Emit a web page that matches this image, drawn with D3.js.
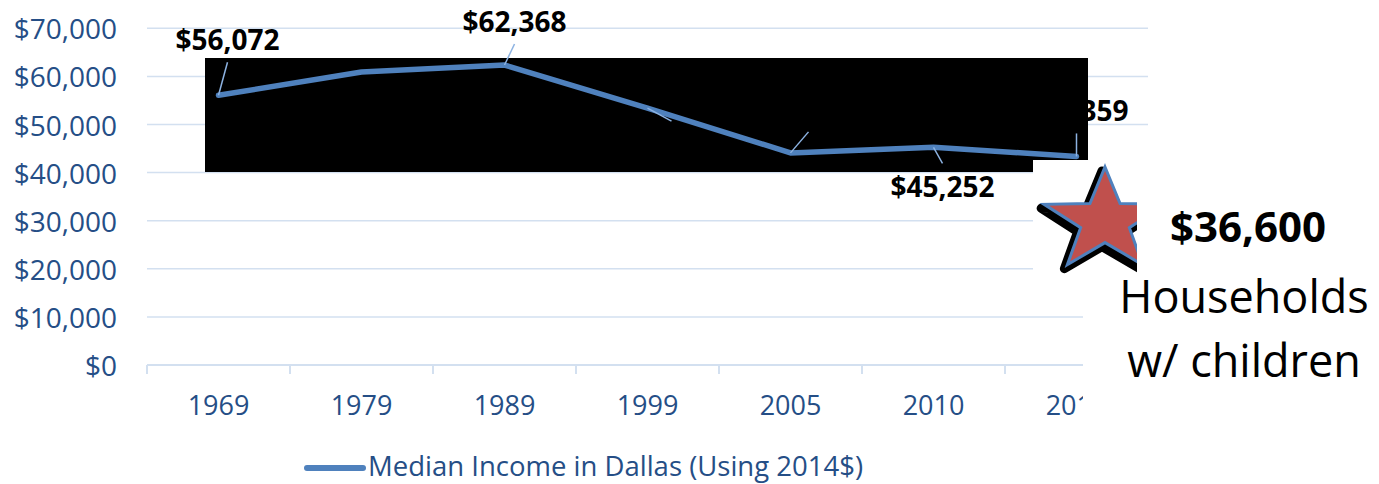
<!DOCTYPE html>
<html>
<head>
<meta charset="utf-8">
<script src="https://cdn.jsdelivr.net/npm/d3@7"></script>
<style>
  body { margin: 0; background: #fff; }
  svg { display: block; }
</style>
</head>
<body>
<script>
const years = ['1969', '1979', '1989', '1999', '2005', '2010', '2014']
const income = [56072, 60900, 62368, 53400, 44100, 45252, 43359]
const labelled = [true, false, true, true, true, true, true]
const yTicks = [0, 10000, 20000, 30000, 40000, 50000, 60000, 70000]
const seriesName = 'Median Income in Dallas (Using 2014$)'
const calloutValue = '$36,600'
const calloutLines = ['Households', 'w/ children']

// where each data label was dragged to, relative to its point (label centre x, baseline y)
const labelOffsets = [[9, -45], [0, -14], [10, -33], [24, 47], [18, -33], [9, 50], [0, -35]]

const W = 1379, H = 484
const fontFam = "'Open Sans', 'Noto Sans', sans-serif"
const axisCol = '#254e86'
const gridCol = '#d3e0f0'
const lineCol = '#4f81bd'

const svg = d3.select('body').append('svg').attr('width', W).attr('height', H)

const x = d3.scaleBand().domain(years).range([147, 1148])
const y = d3.scaleLinear().domain([0, 70000]).range([365, 28.3])
const cx = d => x(d) + x.bandwidth() / 2

// gridlines + y labels
svg.append('g').selectAll('line').data(yTicks.slice(1)).enter().append('line')
  .attr('x1', 147).attr('x2', 1148)
  .attr('y1', d => y(d)).attr('y2', d => y(d))
  .attr('stroke', gridCol).attr('stroke-width', 1.5)

svg.append('g').selectAll('text').data(yTicks).enter().append('text')
  .attr('x', 117).attr('y', d => y(d))
  .attr('text-anchor', 'end').attr('dominant-baseline', 'central')
  .attr('font-family', fontFam).attr('font-size', 28).attr('fill', axisCol)
  .text(d => d3.format('$,')(d))

// x axis: line, ticks between categories, labels
const xAxis = d3.axisBottom(x).tickSize(0).tickPadding(31)
const gx = svg.append('g').attr('transform', 'translate(0,' + y(0) + ')').call(xAxis)
gx.select('.domain').remove()
gx.selectAll('text').attr('font-family', fontFam).attr('font-size', 27).attr('fill', axisCol)
svg.append('line').attr('x1', 147).attr('x2', 1148).attr('y1', y(0)).attr('y2', y(0))
  .attr('stroke', gridCol).attr('stroke-width', 2)
svg.append('g').selectAll('line').data(years.map(d => x(d)).concat([1148])).enter().append('line')
  .attr('x1', d => d).attr('x2', d => d).attr('y1', y(0)).attr('y2', y(0) + 9)
  .attr('stroke', gridCol).attr('stroke-width', 2)

// black block pasted over the chart
svg.append('rect').attr('x', 205).attr('y', 58).attr('width', 883).attr('height', 114).attr('fill', '#000')

// series
const pts = years.map((d, i) => ({ year: d, v: income[i], i: i }))
svg.append('path').datum(pts)
  .attr('d', d3.line().x(d => cx(d.year)).y(d => y(d.v)))
  .attr('fill', 'none').attr('stroke', lineCol).attr('stroke-width', 5.5)
  .attr('stroke-linejoin', 'round').attr('stroke-linecap', 'round')

// data labels with leader lines
const lab = pts.filter(d => labelled[d.i])
svg.append('g').selectAll('line').data(lab).enter().append('line')
  .attr('x1', d => cx(d.year)).attr('y1', d => y(d.v))
  .attr('x2', d => cx(d.year) + labelOffsets[d.i][0])
  .attr('y2', d => {
    const o = labelOffsets[d.i][1]
    return y(d.v) + (o < 0 ? o + 12 : o - 34)
  })
  .attr('stroke', '#8db3e2').attr('stroke-width', 1.5)
svg.append('g').selectAll('text').data(lab).enter().append('text')
  .attr('x', d => cx(d.year) + labelOffsets[d.i][0])
  .attr('y', d => y(d.v) + labelOffsets[d.i][1])
  .attr('text-anchor', 'middle')
  .attr('font-family', fontFam).attr('font-size', 28).attr('font-weight', 'bold').attr('fill', '#000')
  .text(d => d3.format('$,')(d.v))

// legend
svg.append('line').attr('x1', 307).attr('x2', 363).attr('y1', 468).attr('y2', 468)
  .attr('stroke', lineCol).attr('stroke-width', 6).attr('stroke-linecap', 'round')
svg.append('text').attr('x', 368).attr('y', 476)
  .attr('font-family', fontFam).attr('font-size', 27.5).attr('fill', axisCol)
  .text(seriesName)

// pasted callout picture (white background)
svg.append('rect').attr('x', 1083).attr('y', 165).attr('width', W - 1083).attr('height', H - 165).attr('fill', '#fff')
svg.append('text').attr('x', 1248).attr('y', 242).attr('text-anchor', 'middle')
  .attr('font-family', fontFam).attr('font-size', 42).attr('font-weight', 'bold').attr('fill', '#000')
  .text(calloutValue)
svg.append('g').selectAll('text').data(calloutLines).enter().append('text')
  .attr('x', 1244).attr('y', (d, i) => 313 + i * 64).attr('text-anchor', 'middle')
  .attr('font-family', fontFam).attr('font-size', 45).attr('fill', '#000')
  .text(d => d)

// pasted star picture, cropped on its right
const clip = svg.append('clipPath').attr('id', 'starclip')
clip.append('rect').attr('x', 1033).attr('y', 160).attr('width', 104).attr('height', 118)
const star = svg.append('g').attr('clip-path', 'url(#starclip)')
star.append('rect').attr('x', 1033).attr('y', 160).attr('width', 104).attr('height', 118).attr('fill', '#fff')
const starPts = d3.range(10).map(k => {
  const a = -Math.PI / 2 + k * Math.PI / 5
  const r = k % 2 ? 0.4 : 1
  return [Math.cos(a) * r * 64, Math.sin(a) * r * 54]
})
const starPath = 'M' + starPts.join('L') + 'Z'
star.append('path').attr('d', starPath).attr('transform', 'translate(1102,225)')
  .attr('fill', '#000').attr('stroke', '#000').attr('stroke-width', 9).attr('stroke-linejoin', 'round')
star.append('path').attr('d', starPath).attr('transform', 'translate(1105,221)')
  .attr('fill', '#c0504d').attr('stroke', lineCol).attr('stroke-width', 3)
</script>
</body>
</html>
